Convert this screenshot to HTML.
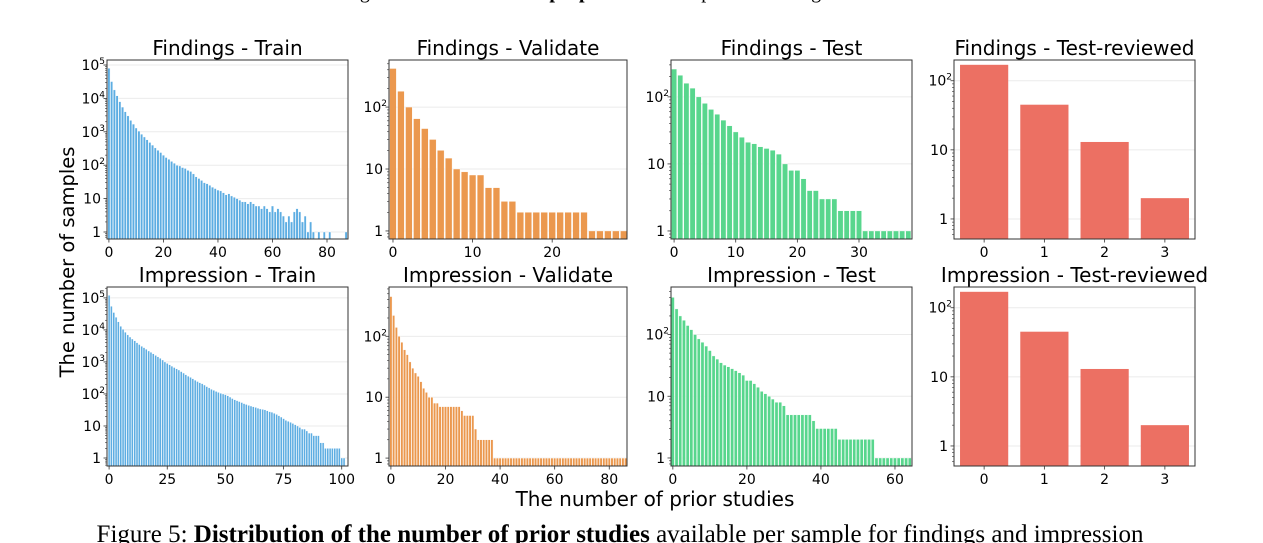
<!DOCTYPE html>
<html><head><meta charset="utf-8">
<style>
html,body{margin:0;padding:0;background:#fff;overflow:hidden;}
svg{display:block;font-family:"DejaVu Sans","Liberation Sans",sans-serif;}
</style></head>
<body>
<svg id="fig" width="1263" height="543" viewBox="0 0 1263 543">
<text x="640" y="-2" text-anchor="middle" font-family="Liberation Serif, serif" font-size="20" fill="#000">gure 4: Statistics of the <tspan font-weight="bold">proportion</tspan> of samples in training and test set.</text>
<text x="655" y="506" text-anchor="middle" font-size="20" fill="#000">The number of prior studies</text>
<text transform="translate(74,262) rotate(-90)" text-anchor="middle" font-size="19.5" fill="#000">The number of samples</text>
<text x="620" y="542" text-anchor="middle" font-family="Liberation Serif, serif" font-size="25" fill="#000" xml:space="preserve"><tspan>Figure 5: </tspan><tspan font-weight="bold">Distribution of the number of prior studies</tspan><tspan> available per sample for findings and impression</tspan></text>
</svg>
<script>
const findingsTrain=[80000,32000,18000,12000,8000,5500,4000,3000,2200,1700,1300,1050,850,700,580,480,400,330,280,240,200,170,150,130,115,100,95,85,80,70,65,55,45,40,35,30,28,25,22,20,18,17,15,13,14,12,11,10,9,8,8,7,8,7,6,6,5,6,5,4,6,4,5,4,3,2,3,2,4,5,4,2,3,1,2,1,0,1,0,1,0,1,0,0,0,0,0,1];
const findingsVal=[420,180,100,65,45,30,20,15,10,9,8,8,5,5,3,3,2,2,2,2,2,2,2,2,2,1,1,1,1,1];
const findingsTest=[260,210,160,135,100,80,65,55,45,37,30,25,21,20,18,17,16,14,10,8,8,6,4,4,3,3,3,2,2,2,2,1,1,1,1,1,1,1,1];
const findingsRev=[170,45,13,2];
const impressionTrain=[120000,55000,35000,25000,18000,13000,10500,8500,7000,6000,5200,4600,4000,3500,3100,2800,2500,2200,2000,1800,1600,1450,1300,1150,1000,900,820,740,670,610,560,500,450,400,360,330,300,270,245,225,210,190,170,155,140,130,120,112,105,100,95,88,80,72,66,62,58,54,50,47,44,42,40,38,36,34,33,32,30,28,27,25,23,21,19,17,15,14,13,12,11,10,9,8,8,7,6,6,5,5,5,3,3,2,2,2,2,2,2,2,1,1];
const impressionVal=[450,220,140,100,80,60,50,38,30,25,22,18,14,12,10,10,8,8,7,7,7,7,7,7,7,7,6,5,5,5,5,3,2,2,2,2,2,2,1,1,1,1,1,1,1,1,1,1,1,1,1,1,1,1,1,1,1,1,1,1,1,1,1,1,1,1,1,1,1,1,1,1,1,1,1,1,1,1,1,1,1,1,1,1,1,1,1];
const impressionTest=[400,260,200,170,140,120,100,85,75,65,55,45,40,35,32,30,28,26,24,22,18,18,16,14,12,11,10,9,8,8,7,5,5,5,5,5,5,5,4,3,3,3,3,3,3,2,2,2,2,2,2,2,2,2,2,1,1,1,1,1,1,1,1,1,1];
const impressionRev=[170,45,13,2];
const revCategories=["0","1","2","3"];
const ticksTrainF=[0,20,40,60,80];
const ticksValF=[0,10,20];
const ticksTestF=[0,10,20,30];
const ticksTrainI=[0,25,50,75,100];
const ticksValI=[0,20,40,60,80];
const ticksTestI=[0,20,40,60];
const ticksRev=[0,1,2,3];
const yTicksTrain=[0,1,2,3,4,5];
const yTicksSmall=[0,1,2];

const NS="http://www.w3.org/2000/svg";
const svg=document.getElementById('fig');
function mk(tag,attrs,parent){const e=document.createElementNS(NS,tag);for(const k in attrs)e.setAttribute(k,attrs[k]);(parent||svg).appendChild(e);return e;}

const panels=[
 {name:'findings-train',title:'Findings - Train',data:findingsTrain,color:'#5dade2',x0:107,x1:348,y0:60,y1:239,xlo:-0.7,xhi:87.7,ylo:-0.21,yhi:5.15,xt:ticksTrainF,yt:yTicksTrain,w:0.85},
 {name:'findings-validate',title:'Findings - Validate',data:findingsVal,color:'#eb984e',x0:389,x1:627,y0:60,y1:239,xlo:-0.5,xhi:29.4,ylo:-0.13,yhi:2.76,xt:ticksValF,yt:yTicksSmall,w:0.85},
 {name:'findings-test',title:'Findings - Test',data:findingsTest,color:'#58d68d',x0:671,x1:912,y0:60,y1:239,xlo:-0.5,xhi:38.6,ylo:-0.12,yhi:2.55,xt:ticksTestF,yt:yTicksSmall,w:0.85},
 {name:'findings-test-reviewed',title:'Findings - Test-reviewed',data:findingsRev,color:'#ec7063',x0:954,x1:1195,y0:60,y1:239,xlo:-0.5,xhi:3.5,ylo:-0.29,yhi:2.30,xt:ticksRev,yt:yTicksSmall,w:0.8,cat:true},
 {name:'impression-train',title:'Impression - Train',data:impressionTrain,color:'#5dade2',x0:107,x1:348,y0:287,y1:466,xlo:-0.9,xhi:102.7,ylo:-0.25,yhi:5.34,xt:ticksTrainI,yt:yTicksTrain,w:0.85},
 {name:'impression-validate',title:'Impression - Validate',data:impressionVal,color:'#eb984e',x0:389,x1:627,y0:287,y1:466,xlo:-0.7,xhi:86.5,ylo:-0.13,yhi:2.81,xt:ticksValI,yt:yTicksSmall,w:0.85},
 {name:'impression-test',title:'Impression - Test',data:impressionTest,color:'#58d68d',x0:671,x1:912,y0:287,y1:466,xlo:-0.5,xhi:64.6,ylo:-0.13,yhi:2.77,xt:ticksTestI,yt:yTicksSmall,w:0.85},
 {name:'impression-test-reviewed',title:'Impression - Test-reviewed',data:impressionRev,color:'#ec7063',x0:954,x1:1195,y0:287,y1:466,xlo:-0.5,xhi:3.5,ylo:-0.29,yhi:2.30,xt:ticksRev,yt:yTicksSmall,w:0.8,cat:true}
];

panels.forEach(p=>{
 const g=mk('g',{});
 
 
 const X=v=>p.x0+(v-p.xlo)/(p.xhi-p.xlo)*(p.x1-p.x0);
 const Y=v=>p.y1-(Math.log10(v)-p.ylo)/(p.yhi-p.ylo)*(p.y1-p.y0);
 p.yt.forEach(e=>{const yy=Y(Math.pow(10,e));
  const l=mk('line',{x1:p.x0,x2:p.x1,y1:yy,y2:yy,stroke:'#ebebeb','stroke-width':1},g);
  
  
 });
 p.data.forEach((v,i)=>{ if(v<=0) return;
  const xa=X(i-p.w/2), xb=X(i+p.w/2), yt=Y(v);
  const r=mk('rect',{x:xa,y:yt,width:Math.max(0.3,xb-xa),height:p.y1-yt,fill:p.color,stroke:p.cat?'none':'#fff','stroke-width':p.cat?0:0.4},g);
  
  
 });
 const f=mk('rect',{x:p.x0,y:p.y0,width:p.x1-p.x0,height:p.y1-p.y0,fill:'none',stroke:'#333','stroke-width':1},g);
 
 
 const t=mk('text',{x:(p.x0+p.x1)/2,y:p.y0-5,'text-anchor':'middle','font-size':20,fill:'#000'},g);
 t.textContent=p.title;
 
 
 p.xt.forEach(v=>{const xx=X(v);
  mk('line',{x1:xx,x2:xx,y1:p.y1,y2:p.y1+3.5,stroke:'#333','stroke-width':0.8},g);
  const tl=mk('text',{x:xx,y:p.y1+18,'text-anchor':'middle','font-size':14,fill:'#000'},g);
  tl.textContent=p.cat?revCategories[v]:String(v);
  
  
 });
 for(let e=-1;e<6;e++){for(let m=2;m<10;m++){const val=m*Math.pow(10,e);const lv=Math.log10(val);
  if(lv>p.ylo&&lv<p.yhi){const yy=Y(val);mk('line',{x1:p.x0-2,x2:p.x0,y1:yy,y2:yy,stroke:'#333','stroke-width':0.6},g);}}}
 p.yt.forEach(e=>{const yy=Y(Math.pow(10,e));
  mk('line',{x1:p.x0-3.5,x2:p.x0,y1:yy,y2:yy,stroke:'#333','stroke-width':0.8},g);
  const tl=mk('text',{x:p.x0-6,y:yy+5,'text-anchor':'end','font-size':14,fill:'#000'},g);
  
  
  if(e===0) tl.textContent='1';
  else if(e===1) tl.textContent='10';
  else { tl.textContent='10'; const s=mk('tspan',{'font-size':9,dy:-6},tl); s.textContent=String(e); tl.setAttribute('x',p.x0-2); }
 });
});
</script>
</body></html>
